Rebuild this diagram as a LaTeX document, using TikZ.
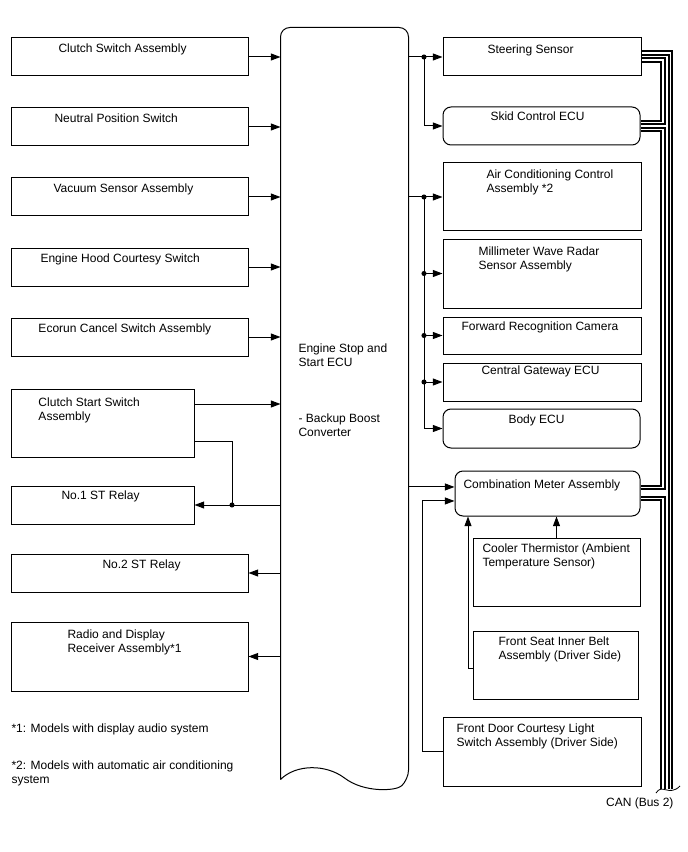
\documentclass[tikz,border=0pt]{standalone}
\usepackage{fontspec}
\setmainfont{Liberation Sans}
\usetikzlibrary{arrows.meta}

\begin{document}
\begin{tikzpicture}[x=0.75pt, y=-0.75pt, >={Triangle[length=7.2pt,width=5.2pt]},
    font=\fontsize{9}{10.5}\selectfont, line width=0.75pt,
    box/.style={draw, line width=0.75pt, inner sep=0pt},
    lbox/.style={box, minimum width=177.75pt, minimum height=28.5pt},
    rbox/.style={box, minimum width=148.5pt, minimum height=28.5pt},
    lbl/.style={anchor=north west, inner sep=0pt, align=left},
    dot/.style={circle, fill, inner sep=0pt, minimum size=3.8pt},
    canbus/.style={line width=1.5pt, double=white, double distance=0.8pt}]

    \useasboundingbox (0,0) rectangle (688,852);

    % Linke Spalte
    \node[lbox] (clutchsw) at (129.5,57) {};
    \node[lbox] (neutral) at (129.5,127) {};
    \node[lbox] (vacuum) at (129.5,197) {};
    \node[lbox] (hood) at (129.5,267) {};
    \node[lbox] (ecorun) at (129.5,337) {};
    \node[box, minimum width=137.25pt, minimum height=51pt] (clutchst) at (102.5,423) {};
    \node[box, minimum width=137.25pt, minimum height=28.5pt] (relay1) at (102.5,505) {};
    \node[lbox] (relay2) at (129.5,573) {};
    \node[lbox, minimum height=51.75pt] (radio) at (129.5,656.5) {};

    \node[lbl] (clutchsw-t) at (58,43.6) {Clutch Switch Assembly};
    \node[lbl] (neutral-t) at (54,113.6) {Neutral Position Switch};
    \node[lbl] (vacuum-t) at (53,183.6) {Vacuum Sensor Assembly};
    \node[lbl] (hood-t) at (40,253.6) {Engine Hood Courtesy Switch};
    \node[lbl] (ecorun-t) at (38,323.6) {Ecorun Cancel Switch Assembly};
    \node[lbl] (clutchst-t) at (38,397.6) {Clutch Start Switch\\Assembly};
    \node[lbl] (relay1-t) at (61,490.6) {No.1 ST Relay};
    \node[lbl] (relay2-t) at (102,559.6) {No.2 ST Relay};
    \node[lbl] (radio-t) at (67,629.6) {Radio and Display\\Receiver Assembly*1};

    % Fussnoten
    \node[lbl] (note1) at (11,723.6) {*1: Models with display audio system};
    \node[lbl] (note2) at (11,760.6) {*2: Models with automatic air conditioning\\system};

    % Steuergeraet in der Mitte
    \node[minimum width=95.25pt, minimum height=563.25pt, inner sep=0pt] (ecu) at (344.5,403.5) {};
    \draw (ecu.south west) {[rounded corners=7pt] -- (ecu.north west) -- (ecu.north east) -- (ecu.south east)}
        .. controls (396,791) and (364,793) .. (344.5,778)
        .. controls (326,764) and (296,764) .. (ecu.south west);
    \node[lbl] (ecu-t1) at (298,343.6) {Engine Stop and\\Start ECU};
    \node[lbl] (ecu-t2) at (298,413.6) {- Backup Boost\\Converter};

    % Rechte Spalte
    \node[rbox] (steer) at (542,57) {};
    \node[rbox, minimum width=147.75pt, rounded corners=6pt] (skid) at (541.5,126) {};
    \node[rbox, minimum height=51pt] (aircon) at (542,197) {};
    \node[rbox, minimum height=51.75pt] (radar) at (542,273.5) {};
    \node[rbox, minimum height=27.75pt] (camera) at (542,335.5) {};
    \node[rbox] (gateway) at (542,382) {};
    \node[rbox, minimum width=147.75pt, minimum height=29.25pt, rounded corners=6pt] (body) at (541.5,428.5) {};
    \node[box, minimum width=138.75pt, minimum height=33.75pt, rounded corners=6pt] (meter) at (547.5,493.5) {};
    \node[box, minimum width=125.25pt, minimum height=51pt] (cooler) at (556.5,572) {};
    \node[box, minimum width=123.75pt, minimum height=51pt] (belt) at (555.5,665) {};
    \node[rbox, minimum height=51.75pt] (door) at (542,751.5) {};

    \node[lbl] (steer-t) at (487,44.6) {Steering Sensor};
    \node[lbl] (skid-t) at (490,111.6) {Skid Control ECU};
    \node[lbl] (aircon-t) at (486,169.6) {Air Conditioning Control\\Assembly *2};
    \node[lbl] (radar-t) at (478,246) {Millimeter Wave Radar\\Sensor Assembly};
    \node[lbl] (camera-t) at (461,321.6) {Forward Recognition Camera};
    \node[lbl] (gateway-t) at (481,365.6) {Central Gateway ECU};
    \node[lbl] (body-t) at (508,414.6) {Body ECU};
    \node[lbl] (meter-t) at (463,479.6) {Combination Meter Assembly};
    \node[lbl] (cooler-t) at (482,543.6) {Cooler Thermistor (Ambient\\Temperature Sensor)};
    \node[lbl] (belt-t) at (498,636.6) {Front Seat Inner Belt\\Assembly (Driver Side)};
    \node[lbl] (door-t) at (456,723.6) {Front Door Courtesy Light\\Switch Assembly (Driver Side)};
    \node[anchor=north east, inner sep=0pt] (can-t) at (674,797.6) {CAN (Bus 2)};

    % Eingaenge links
    \draw[->] (clutchsw.east) -- (clutchsw.east -| ecu.west);
    \draw[->] (neutral.east) -- (neutral.east -| ecu.west);
    \draw[->] (vacuum.east) -- (vacuum.east -| ecu.west);
    \draw[->] (hood.east) -- (hood.east -| ecu.west);
    \draw[->] (ecorun.east) -- (ecorun.east -| ecu.west);
    \coordinate (cs-a) at ([yshift=14.25pt]clutchst.east);
    \coordinate (cs-b) at ([yshift=-13.5pt]clutchst.east);
    \draw[->] (cs-a) -- (cs-a -| ecu.west);

    % Ausgaenge links
    \coordinate (ltap) at (232,0);
    \node[dot] (jrelay) at (relay1.east -| ltap) {};
    \draw (cs-b) -| (jrelay.center);
    \draw[->] (relay1.east -| ecu.west) -- (relay1.east);
    \draw[->] (relay2.east -| ecu.west) -- (relay2.east);
    \draw[->] (radio.east -| ecu.west) -- (radio.east);

    % Ausgaenge rechts
    \coordinate (rtap) at (424,0);
    \node[dot] (j1) at (steer.west -| rtap) {};
    \draw[->] (steer.west -| ecu.east) -- (steer.west);
    \draw[->] (j1.center) |- (skid.west);
    \node[dot] (j2) at (aircon.west -| rtap) {};
    \draw[->] (aircon.west -| ecu.east) -- (aircon.west);
    \draw[->] (j2.center) |- (body.west);
    \node[dot] (j3) at (radar.west -| rtap) {};
    \draw[->] (j3.center) -- (radar.west);
    \node[dot] (j4) at (camera.west -| rtap) {};
    \draw[->] (j4.center) -- (camera.west);
    \node[dot] (j5) at (gateway.west -| rtap) {};
    \draw[->] (j5.center) -- (gateway.west);

    % Kombiinstrument
    \coordinate (m-a) at ([yshift=4.9pt]meter.west);
    \coordinate (m-b) at ([yshift=-5.6pt]meter.west);
    \coordinate (dtap) at (422,0);
    \coordinate (btap) at (468,0);
    \draw[->] (m-a -| ecu.east) -- (m-a);
    \draw[->] (door.west) -| (dtap |- m-b) -- (m-b);
    \draw[->] ([yshift=-2.25pt]belt.west) -| (btap |- meter.south);
    \draw[->] (cooler.north) -- (cooler.north |- meter.south);

    % CAN-Bus
    \coordinate (busA) at (663,0);
    \coordinate (busB) at (670.5,0);
    \coordinate (busend) at (0,789);
    \coordinate (st-a) at ([xshift=0.4pt, yshift=3pt]steer.east);
    \coordinate (st-b) at ([xshift=0.4pt, yshift=-2.25pt]steer.east);
    \coordinate (sk-a) at ([xshift=0.4pt, yshift=2.6pt]skid.east);
    \coordinate (sk-b) at ([xshift=0.4pt, yshift=-2.6pt]skid.east);
    \coordinate (me-a) at ([xshift=0.4pt, yshift=4.5pt]meter.east);
    \coordinate (me-b) at ([xshift=0.4pt, yshift=-3.75pt]meter.east);
    \draw[canbus] (st-a) -| (busB |- busend);
    \draw[canbus] (st-b) -| (busA |- sk-a) -- (sk-a);
    \draw[canbus] (sk-b) -| (busA |- me-a) -- (me-a);
    \draw[canbus] (me-b) -| (busA |- busend);
    \draw[line width=0.6pt] (656,793) .. controls (662,783) and (669,797) .. (680,786);

\end{tikzpicture}
\end{document}
